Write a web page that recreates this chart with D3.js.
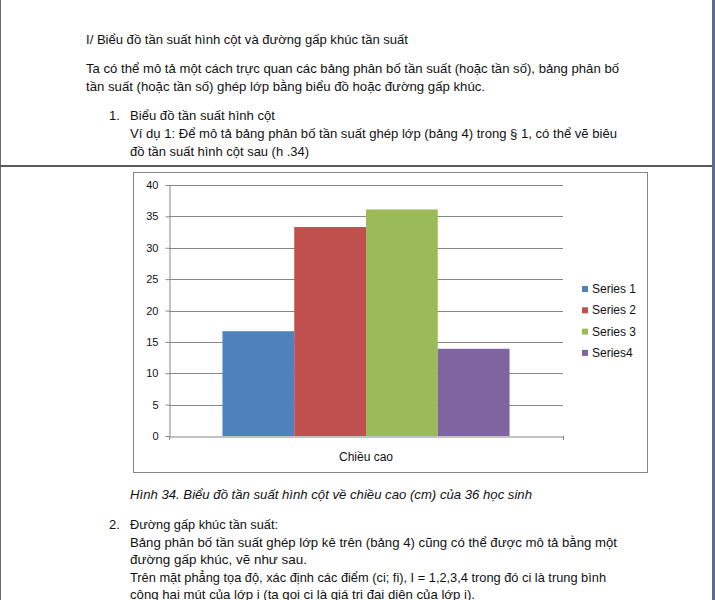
<!DOCTYPE html>
<html><head><meta charset="utf-8">
<script src="https://cdn.jsdelivr.net/npm/d3@7"></script>
<style>html,body{margin:0;padding:0;background:#fff;overflow:hidden}svg{display:block}</style>
</head><body>
<script>
const categories = ["Chiều cao"];
const seriesNames = ["Series 1", "Series 2", "Series 3", "Series4"];
const seriesValues = [16.7, 33.3, 36.1, 13.9];
const seriesColors = ["#4F81BD", "#C0504D", "#9BBB59", "#8064A2"];
const yTicks = [0, 5, 10, 15, 20, 25, 30, 35, 40];

const docLines = [
  {t: "I/ Biểu đồ tần suất hình  cột và đường gấp khúc tần suất", x: 86, y: 44, w: 322},
  {t: "Ta có thể mô tả một cách trực quan các bảng phân bố tần suất (hoặc tần số), bảng phân bố", x: 86, y: 73, w: 533},
  {t: "tần suất (hoặc tần số) ghép lớp bằng biểu đồ hoặc đường gấp khúc.", x: 86, y: 91, w: 399},
  {t: "1.", x: 109, y: 120, w: 0},
  {t: "Biểu đồ tần suất hình  cột", x: 130, y: 120, w: 145},
  {t: "Ví dụ 1: Để mô tả bảng phân bố tần suất ghép lớp (bảng 4) trong § 1, có thể vẽ biêu", x: 130, y: 138, w: 487},
  {t: "đồ tần suất hình  cột sau (h .34)", x: 130, y: 156, w: 179},
  {t: "2.", x: 109, y: 529, w: 0},
  {t: "Đường gấp khúc tần suất:", x: 130, y: 529, w: 148},
  {t: "Bảng phân bố tần suất ghép lớp kê trên (bảng 4) cũng có thể  được mô tả bằng một", x: 130, y: 547, w: 487},
  {t: "đường gấp khúc, vẽ như sau.", x: 130, y: 564, w: 177},
  {t: "Trên  mặt phẳng tọa độ, xác định các điểm (ci; fi), I = 1,2,3,4 trong đó ci là trung bình", x: 130, y: 582, w: 476},
  {t: "cộng hai mút của lớp i (ta gọi ci là giá trị đại diện của lớp i).", x: 130, y: 599, w: 345}
];
const caption = {t: "Hình 34. Biểu đồ tần suất hình cột về chiều cao (cm) của 36 học sinh", x: 130, y: 499, w: 402};

const W = 715, H = 600;
const svg = d3.select("body").append("svg").attr("width", W).attr("height", H)
  .style("font-family", "'Liberation Sans', Arial, sans-serif");

// page borders
svg.append("rect").attr("x", 0).attr("y", 0).attr("width", 1).attr("height", H).attr("fill", "#6a6a6a");
svg.append("rect").attr("x", 0).attr("y", 165).attr("width", 712).attr("height", 2).attr("fill", "#5a5a5a");
svg.append("rect").attr("x", 712).attr("y", 0).attr("width", 3).attr("height", H).attr("fill", "#5b6d8a");

// document text
docLines.forEach(d => {
  const t = svg.append("text").attr("x", d.x).attr("y", d.y).attr("font-size", 13).attr("fill", "#111").text(d.t);
  if (d.w) t.attr("textLength", d.w).attr("lengthAdjust", "spacingAndGlyphs");
});
svg.append("text").attr("x", caption.x).attr("y", caption.y).attr("font-size", 13).attr("font-style", "italic")
  .attr("fill", "#111").attr("textLength", caption.w).attr("lengthAdjust", "spacingAndGlyphs").text(caption.t);

// chart frame
svg.append("rect").attr("x", 133.5).attr("y", 172.5).attr("width", 514).attr("height", 300)
  .attr("fill", "#fff").attr("stroke", "#868686").attr("stroke-width", 1);

const plot = {left: 169, right: 563, top: 185, bottom: 436};
const y = d3.scaleLinear().domain([0, 40]).range([plot.bottom, plot.top]);
const x0 = d3.scaleBand().domain(categories).range([plot.left, plot.right]).padding(0);
const x1 = d3.scaleBand().domain(seriesNames).range([0, x0.bandwidth()]).paddingInner(0).paddingOuter(0.745);

// gridlines
svg.append("g").selectAll("line").data(yTicks.filter(v => v > 0)).join("line")
  .attr("x1", plot.left).attr("x2", plot.right)
  .attr("y1", d => Math.round(y(d)) + 0.5).attr("y2", d => Math.round(y(d)) + 0.5)
  .attr("stroke", "#868686").attr("stroke-width", 1);

// bars
const g = svg.append("g");
categories.forEach(c => {
  g.selectAll("rect.b").data(seriesNames).join("rect").attr("class", "b")
    .attr("x", (s) => x0(c) + x1(s))
    .attr("width", x1.bandwidth())
    .attr("y", (s, i) => y(seriesValues[i]))
    .attr("height", (s, i) => y(0) - y(seriesValues[i]))
    .attr("fill", (s, i) => seriesColors[i]);
});

// y axis
const yAxis = svg.append("g").attr("transform", `translate(${plot.left + 0.5},0)`)
  .call(d3.axisLeft(y).tickValues(yTicks).tickSize(4).tickPadding(7).tickSizeOuter(0));
yAxis.select(".domain").attr("stroke", "#868686");
yAxis.selectAll(".tick line").attr("stroke", "#868686");
yAxis.selectAll(".tick text").attr("font-size", 11).attr("fill", "#111").attr("font-family", "'Liberation Sans', Arial, sans-serif");

// x axis
const xAxis = svg.append("g").attr("transform", `translate(0,${Math.round(plot.bottom) + 0.5})`)
  .call(d3.axisBottom(x0).tickSize(0).tickPadding(16));
xAxis.select(".domain").attr("stroke", "#868686");
xAxis.selectAll(".tick text").attr("font-size", 12).attr("fill", "#111").attr("font-family", "'Liberation Sans', Arial, sans-serif");
// category boundary ticks
svg.append("g").selectAll("line").data([plot.left, plot.right]).join("line")
  .attr("x1", d => d + 0.5).attr("x2", d => d + 0.5)
  .attr("y1", plot.bottom).attr("y2", plot.bottom + 4).attr("stroke", "#868686");

// legend
const leg = svg.append("g");
seriesNames.forEach((s, i) => {
  const ly = 289 + i * 21.3;
  leg.append("rect").attr("x", 582).attr("y", ly - 3).attr("width", 6).attr("height", 6).attr("fill", seriesColors[i]);
  leg.append("text").attr("x", 592).attr("y", ly + 4).attr("font-size", 12).attr("fill", "#111").text(s);
});
</script>
</body></html>
